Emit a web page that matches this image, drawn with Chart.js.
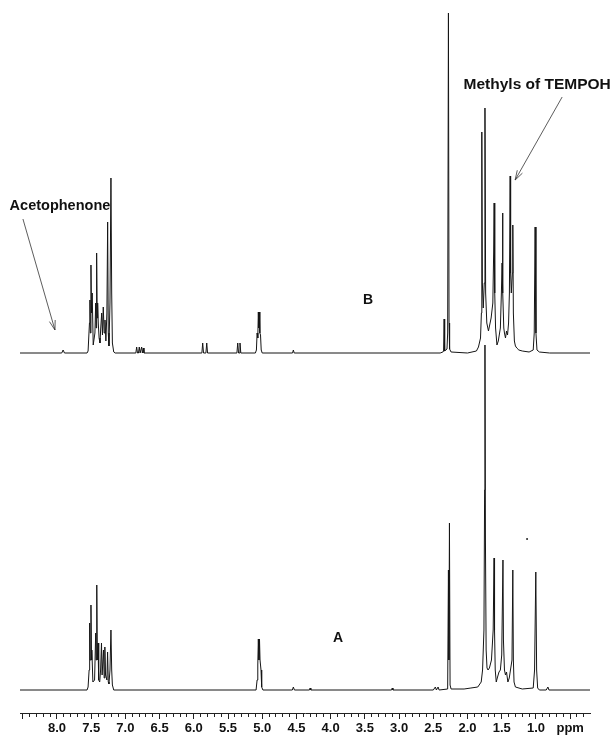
<!DOCTYPE html>
<html>
<head>
<meta charset="utf-8">
<title>1H NMR spectra A and B</title>
<script src="https://cdn.jsdelivr.net/npm/chart.js@4.4.1/dist/chart.umd.min.js"></script>
<style>
  html, body { margin: 0; padding: 0; background: #fff; }
  #wrap { position: relative; width: 613px; height: 736px; }
</style>
</head>
<body>
<div id="wrap"><canvas id="nmr"></canvas></div>
<script>
// chemical shift (ppm) and intensity, upper trace (B)
const traceB = [
  [8.54, 0], [7.93, 0], [7.91, 3], [7.89, 0], [7.56, 0],
  [7.545, 2], [7.525, 30], [7.518, 53], [7.512, 20], [7.503, 88], [7.495, 40], [7.485, 60],
  [7.47, 8], [7.445, 20], [7.434, 50], [7.427, 25], [7.42, 100], [7.412, 35], [7.405, 50],
  [7.396, 30], [7.384, 15], [7.371, 10], [7.36, 25], [7.346, 40], [7.335, 18], [7.323, 46],
  [7.31, 20], [7.298, 33], [7.285, 12], [7.27, 40], [7.259, 131], [7.25, 20], [7.24, 7],
  [7.225, 50], [7.211, 175], [7.2, 60], [7.19, 10], [7.17, 1], [7.15, 0],
  [6.847, 0], [6.835, 6], [6.823, 0], [6.809, 0], [6.797, 6], [6.785, 0],
  [6.772, 0], [6.762, 6], [6.752, 0], [6.748, 0], [6.738, 5], [6.728, 0],
  [5.882, 0], [5.870, 10], [5.858, 0], [5.823, 0], [5.811, 10], [5.799, 0],
  [5.37, 0], [5.358, 10], [5.346, 0], [5.337, 0], [5.325, 10], [5.313, 0],
  [5.10, 0], [5.085, 3], [5.075, 20], [5.065, 15], [5.057, 41], [5.05, 25], [5.043, 41],
  [5.035, 20], [5.025, 18], [5.015, 3], [5.0, 0],
  [4.557, 0], [4.545, 3], [4.533, 0],
  [2.40, 0], [2.36, 1], [2.35, 2], [2.342, 34], [2.334, 2], [2.30, 4], [2.29, 20],
  [2.279, 340], [2.27, 30], [2.262, 4], [2.24, 1], [2.0, 0],
  [1.87, 2], [1.84, 6], [1.81, 15], [1.797, 40], [1.791, 221], [1.783, 70], [1.77, 45],
  [1.755, 70], [1.745, 245], [1.735, 60], [1.718, 30], [1.694, 22], [1.655, 35],
  [1.63, 50], [1.618, 100], [1.611, 150], [1.602, 60], [1.59, 25], [1.57, 8],
  [1.55, 12], [1.52, 25], [1.505, 60], [1.495, 90], [1.489, 140], [1.482, 60], [1.47, 25],
  [1.46, 20], [1.445, 15], [1.43, 22], [1.415, 18], [1.40, 30], [1.388, 60], [1.377, 177],
  [1.37, 80], [1.36, 60], [1.345, 80], [1.338, 128], [1.33, 40], [1.315, 12], [1.30, 7],
  [1.28, 5], [1.25, 3], [1.20, 2], [1.10, 1], [1.04, 3], [1.025, 20], [1.012, 126],
  [1.0, 20], [0.985, 3], [0.95, 1], [0.80, 0], [0.21, 0]
];

// lower trace (A)
const traceA = [
  [8.54, 0], [7.56, 0],
  [7.545, 3], [7.53, 20], [7.522, 67], [7.515, 30], [7.503, 85], [7.495, 30], [7.49, 40],
  [7.475, 8], [7.45, 10], [7.434, 57], [7.427, 30], [7.418, 105], [7.41, 30], [7.40, 47],
  [7.39, 10], [7.375, 8], [7.362, 20], [7.349, 47], [7.34, 15], [7.33, 15], [7.32, 40],
  [7.31, 12], [7.30, 43], [7.29, 15], [7.27, 10], [7.26, 38], [7.25, 8], [7.24, 6],
  [7.225, 20], [7.211, 60], [7.20, 20], [7.19, 5], [7.17, 0],
  [5.09, 0], [5.075, 10], [5.065, 25], [5.057, 51], [5.048, 30], [5.04, 51], [5.032, 30],
  [5.018, 20], [5.008, 3], [4.99, 0],
  [4.56, 0], [4.545, 3], [4.53, 0], [4.31, 0], [4.30, 2], [4.29, 0], [3.11, 0], [3.10, 2], [3.09, 0],
  [2.50, 0], [2.47, 3], [2.455, 0], [2.43, 3], [2.415, 0], [2.29, 1], [2.279, 120],
  [2.272, 30], [2.264, 167], [2.255, 5], [2.24, 1], [2.05, 1], [1.95, 2], [1.85, 3],
  [1.80, 8], [1.78, 20], [1.76, 60], [1.75, 200], [1.745, 345], [1.738, 150], [1.728, 40],
  [1.715, 22], [1.70, 20], [1.68, 22], [1.65, 30], [1.625, 60], [1.612, 132], [1.605, 60],
  [1.595, 20], [1.58, 8], [1.565, 12], [1.54, 18], [1.52, 20], [1.50, 35], [1.482, 130],
  [1.475, 50], [1.46, 20], [1.445, 15], [1.43, 18], [1.41, 8], [1.39, 12], [1.35, 30],
  [1.338, 120], [1.33, 30], [1.32, 8], [1.30, 3], [1.20, 1], [1.04, 2], [1.02, 20],
  [1.002, 118], [0.99, 20], [0.975, 2], [0.95, 0], [0.85, 0], [0.825, 3], [0.81, 0], [0.21, 0]
];

// stray dot above trace A
const strayDot = [[1.13, 151]];

// axis: labelled shifts, the unit sits where 0.5 would be
const labelledShifts = [8.0, 7.5, 7.0, 6.5, 6.0, 5.5, 5.0, 4.5, 4.0, 3.5, 3.0, 2.5, 2.0, 1.5, 1.0];
const unitLabel = 'ppm';
const unitShift = 0.5;

// text labels: [text, ppm, intensity, axis]
const notes = [
  ['Acetophenone', 7.956, 147, 'yB'],
  ['Methyls of TEMPOH', 0.982, 268, 'yB'],
  ['B', 3.453, 53, 'yB'],
  ['A', 3.892, 52, 'yA']
];
// arrows: [fromPpm, fromInt, toPpm, toInt, axis]
const arrows = [
  [8.497, 134, 8.029, 23, 'yB'],
  [0.617, 256, 1.304, 173, 'yB']
];

const toXY = (pts) => pts.map(p => ({x: p[0], y: p[1]}));
const near = (a, b) => Math.abs(a - b) < 1e-6;

const notePlugin = {
  id: 'notes',
  afterDatasetsDraw(chart) {
    const ctx = chart.ctx;
    const xs = chart.scales.x;
    ctx.save();
    ctx.fillStyle = '#111';
    ctx.textAlign = 'center';
    ctx.textBaseline = 'middle';
    notes.forEach(n => {
      const size = n[0].length > 3 ? (n[0].length > 12 ? 15.5 : 14.5) : 14;
      ctx.font = 'bold ' + size + 'px "Liberation Sans", Arial, sans-serif';
      ctx.fillText(n[0], xs.getPixelForValue(n[1]), chart.scales[n[3]].getPixelForValue(n[2]));
    });
    ctx.strokeStyle = '#333';
    ctx.lineWidth = 0.8;
    arrows.forEach(a => {
      const ys = chart.scales[a[4]];
      const x1 = xs.getPixelForValue(a[0]), y1 = ys.getPixelForValue(a[1]);
      const x2 = xs.getPixelForValue(a[2]), y2 = ys.getPixelForValue(a[3]);
      const ang = Math.atan2(y2 - y1, x2 - x1);
      ctx.beginPath();
      ctx.moveTo(x1, y1);
      ctx.lineTo(x2, y2);
      ctx.moveTo(x2 - 10 * Math.cos(ang - 0.3), y2 - 10 * Math.sin(ang - 0.3));
      ctx.lineTo(x2, y2);
      ctx.lineTo(x2 - 10 * Math.cos(ang + 0.3), y2 - 10 * Math.sin(ang + 0.3));
      ctx.stroke();
    });
    ctx.restore();
  }
};

const lineStyle = {
  borderColor: '#151515',
  borderWidth: 1,
  pointRadius: 0,
  tension: 0,
  borderJoinStyle: 'round',
  clip: false,
  fill: false
};

new Chart(document.getElementById('nmr'), {
  type: 'line',
  data: {
    datasets: [
      Object.assign({label: 'B', data: toXY(traceB), yAxisID: 'yB'}, lineStyle),
      Object.assign({label: 'A', data: toXY(traceA), yAxisID: 'yA'}, lineStyle),
      {type: 'scatter', label: 'dot', data: toXY(strayDot), yAxisID: 'yA',
       pointRadius: 1, pointBackgroundColor: '#222', pointBorderWidth: 0}
    ]
  },
  options: {
    responsive: true,
    maintainAspectRatio: false,
    animation: false,
    events: [],
    layout: {padding: {left: 20, right: 23, top: 10, bottom: 0}},
    plugins: {legend: {display: false}, tooltip: {enabled: false}},
    scales: {
      x: {
        type: 'linear',
        reverse: true,
        min: 0.21,
        max: 8.54,
        border: {display: true, color: '#222', width: 1},
        grid: {
          drawOnChartArea: false,
          tickLength: 6,
          tickColor: '#222',
          tickBorderDash: (ctx) => {
            const v = ctx.tick ? ctx.tick.value : 0;
            return near(v * 2, Math.round(v * 2)) ? [] : [3, 50];
          }
        },
        ticks: {
          stepSize: 0.1,
          includeBounds: false,
          autoSkip: false,
          maxRotation: 0,
          padding: 2,
          color: '#111',
          font: {family: '"Liberation Sans", Arial, sans-serif', size: 13, weight: 'bold'},
          callback: (v) => {
            if (near(v, unitShift)) return unitLabel;
            const hit = labelledShifts.find(s => near(s, v));
            return hit !== undefined ? hit.toFixed(1) : '';
          }
        },
        afterFit: (scale) => { scale.height = 23; }
      },
      yB: {type: 'linear', display: false, min: -360, max: 343},
      yA: {type: 'linear', display: false, min: -23, max: 680}
    }
  },
  plugins: [notePlugin]
});
</script>
</body>
</html>
